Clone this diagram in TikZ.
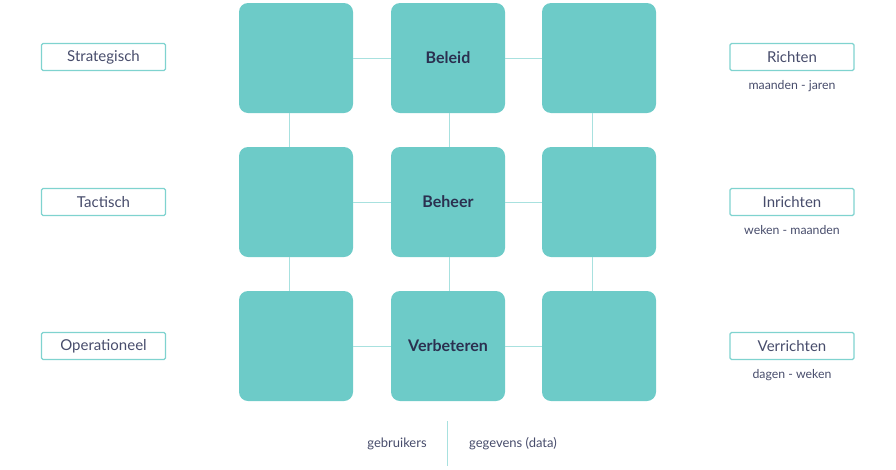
\documentclass[tikz,border=0pt]{standalone}
\usepackage{fontspec}
\setmainfont{Lato}
\definecolor{teal}{HTML}{6DCBC8}
\definecolor{lineteal}{HTML}{A8E1DF}
\definecolor{labelborder}{HTML}{7FD3CF}
\definecolor{navy}{HTML}{2B3050}
\definecolor{textgray}{HTML}{474C6B}
\begin{document}
\begin{tikzpicture}[x=1pt,y=-1pt,
  cell/.style={fill=teal,draw=none,rounded corners=9pt,minimum width=114pt,minimum height=110pt,inner sep=0pt,font=\fontsize{16}{18}\selectfont\bfseries,text=navy},
  lab/.style={draw=labelborder,line width=1.2pt,rounded corners=1.5pt,minimum width=124pt,minimum height=27pt,inner sep=0pt,font=\fontsize{15}{17}\selectfont,text=textgray},
  sub/.style={font=\fontsize{12.3}{14}\selectfont,text=textgray,inner sep=0pt},
  foot/.style={font=\fontsize{13}{15}\selectfont,text=textgray,inner sep=0pt},
  conn/.style={draw=lineteal,line width=1pt}]
\useasboundingbox (0,0) rectangle (896,469);
\node[cell] (a1) at (296,58) {};
\node[cell] (a2) at (448,58) {Beleid};
\node[cell] (a3) at (599,58) {};
\node[cell] (b1) at (296,202) {};
\node[cell] (b2) at (448,202) {Beheer};
\node[cell] (b3) at (599,202) {};
\node[cell] (c1) at (296,346) {};
\node[cell] (c2) at (448,346) {Verbeteren};
\node[cell] (c3) at (599,346) {};
\draw[conn] (a1.east) -- (a2.west);
\draw[conn] (a2.east) -- (a3.west);
\draw[conn] (b1.east) -- (b2.west);
\draw[conn] (b2.east) -- (b3.west);
\draw[conn] (c1.east) -- (c2.west);
\draw[conn] (c2.east) -- (c3.west);
\draw[conn] ([xshift=-7pt]a1.south) -- ([xshift=-7pt]b1.north);
\draw[conn] ([xshift=-7pt]b1.south) -- ([xshift=-7pt]c1.north);
\draw[conn] ([xshift=1pt]a2.south) -- ([xshift=1pt]b2.north);
\draw[conn] ([xshift=1pt]b2.south) -- ([xshift=1pt]c2.north);
\draw[conn] ([xshift=-7pt]a3.south) -- ([xshift=-7pt]b3.north);
\draw[conn] ([xshift=-7pt]b3.south) -- ([xshift=-7pt]c3.north);
% left labels
\node[lab] (l1) at (103.5,57) {Strategisch};
\node[lab] (l2) at (103.5,202) {Tactisch};
\node[lab] (l3) at (103.5,346) {Operationeel};
% right labels
\node[lab] (r1) at (792,57) {Richten};
\node[lab] (r2) at (792,202) {Inrichten};
\node[lab] (r3) at (792,346) {Verrichten};
\node[sub] (s1) at (792,86) {maanden - jaren};
\node[sub] (s2) at (792,230.5) {weken - maanden};
\node[sub] (s3) at (792,375) {dagen - weken};
% bottom
\coordinate (d1) at (447,421);
\coordinate (d2) at (447,466);
\draw[conn] (d1) -- (d2);
\node[foot] (g1) at (397,444) {gebruikers};
\node[foot] (g2) at (513,444) {gegevens (data)};
\end{tikzpicture}
\end{document}
